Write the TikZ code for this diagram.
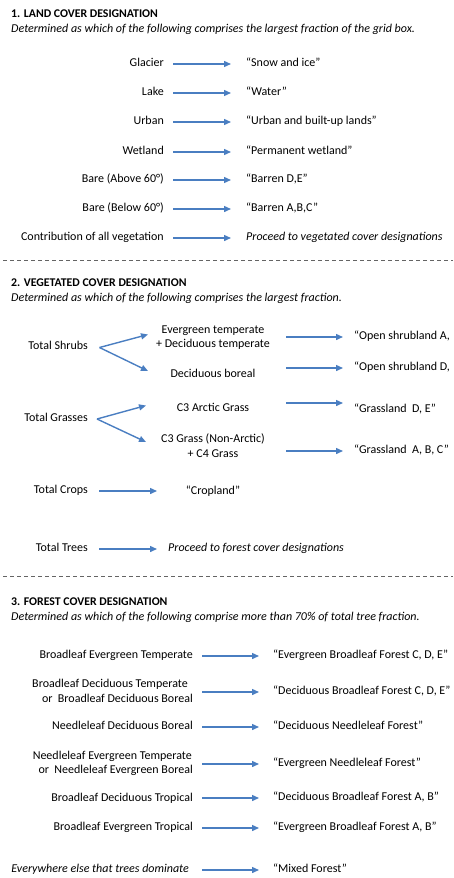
\documentclass[tikz,border=0pt]{standalone}
\usepackage{fontspec}
\setmainfont{Carlito}
\usetikzlibrary{arrows.meta}
\definecolor{arrblue}{RGB}{74,126,193}
\definecolor{dashgray}{RGB}{100,100,100}
\tikzset{
  txt/.style={inner sep=0pt, font=\fontsize{12}{14.5}\selectfont},
  lft/.style={txt, anchor=mid east},
  rgt/.style={txt, anchor=mid west},
  ctr/.style={txt, anchor=center, align=center},
  ttl/.style={inner sep=0pt, anchor=mid west, font=\fontsize{11.8}{14}\selectfont\bfseries},
  sub/.style={inner sep=0pt, anchor=mid west, font=\fontsize{12}{14}\selectfont\itshape},
  arr/.style={draw=arrblue, line width=1.4pt, -{Triangle[length=7pt,width=6pt]}},
  sep/.style={draw=dashgray, line width=0.7pt, dash pattern=on 4pt off 3pt}
}
\begin{document}
\begin{tikzpicture}[x=1pt,y=-1pt]
\useasboundingbox (0,0) rectangle (453,878);
% ---------- Section 1
\node[ttl] (t1) at (11,15) {1. LAND COVER DESIGNATION};
\node[sub] (s1) at (11,30) {Determined as which of the following comprises the largest fraction of the grid box.};
\node[lft] (glacier) at (164,64) {Glacier};
\node[rgt] (snow) at (246,64) {“Snow and ice”};
\node[lft] (lake) at (164,93) {Lake};
\node[rgt] (water) at (246,93) {“Water”};
\node[lft] (urban) at (164,122) {Urban};
\node[rgt] (urbanl) at (246,122) {“Urban and built-up lands”};
\node[lft] (wetland) at (164,152) {Wetland};
\node[rgt] (wetl) at (246,152) {“Permanent wetland”};
\node[lft] (bareA) at (164,180) {Bare (Above 60°)};
\node[rgt] (barrenDE) at (246,180) {“Barren D,E”};
\node[lft] (bareB) at (164,209) {Bare (Below 60°)};
\node[rgt] (barrenABC) at (246,209) {“Barren A,B,C”};
\node[lft] (veg) at (164,238) {Contribution of all vegetation};
\node[rgt] (proc1) at (246,238) {\itshape Proceed to vegetated cover designations};
\foreach \a/\b in {glacier/snow,lake/water,urban/urbanl,wetland/wetl,bareA/barrenDE,bareB/barrenABC,veg/proc1}
  \draw[arr] ([xshift=9pt]\a.mid east) -- ([xshift=-15pt]\b.mid west);
\coordinate (d1a) at (3,260);
\coordinate (d1b) at (453,260);
\draw[sep] (d1a) -- (d1b);
% ---------- Section 2
\node[ttl] (t2) at (11,284) {2. VEGETATED COVER DESIGNATION};
\node[sub] (s2) at (11,299) {Determined as which of the following comprises the largest fraction.};
\node[lft] (shrubs) at (88,347) {Total Shrubs};
\node[ctr] (evt) at (213,337.5) {Evergreen temperate\\+ Deciduous temperate};
\node[ctr] (decb) at (213,373) {Deciduous boreal};
\node[rgt] (osA) at (354,337) {“Open shrubland A,};
\node[rgt] (osD) at (354,368) {“Open shrubland D,};
\coordinate (sh0) at (99.5,347.5);
\coordinate (sh1) at (148,334.5);
\coordinate (sh2) at (148,371);
\draw[arr] (sh0) -- (sh1);
\draw[arr] (sh0) -- (sh2);
\draw[arr] ([xshift=-68pt]osA.mid west) -- ([xshift=-11pt]osA.mid west);
\draw[arr] ([xshift=-68pt]osD.mid west) -- ([xshift=-11pt]osD.mid west);
\node[lft] (grass) at (88,419) {Total Grasses};
\node[ctr] (c3a) at (213,407) {C3 Arctic Grass};
\node[ctr] (c3n) at (213,445.5) {C3 Grass (Non-Arctic)\\+ C4 Grass};
\node[rgt] (glDE) at (354,410) {“Grassland\ \ D, E”};
\node[rgt] (glABC) at (354,451) {“Grassland\ \ A, B, C”};
\coordinate (gr0) at (97,419);
\coordinate (gr1) at (146,405.5);
\coordinate (gr2) at (146,442);
\draw[arr] (gr0) -- (gr1);
\draw[arr] (gr0) -- (gr2);
\coordinate (ga1) at (286,403);
\coordinate (ga2) at (343,403);
\draw[arr] (ga1) -- (ga2);
\draw[arr] ([xshift=-68pt]glABC.mid west) -- ([xshift=-11pt]glABC.mid west);
\node[lft] (crops) at (88,491) {Total Crops};
\node[ctr] (cropland) at (213,491) {“Cropland”};
\draw[arr] ([xshift=11pt]crops.mid east) -- ([xshift=69pt]crops.mid east);
\node[lft] (trees) at (88,549) {Total Trees};
\node[rgt] (proc2) at (168,549) {\itshape Proceed to forest cover designations};
\draw[arr] ([xshift=11pt]trees.mid east) -- ([xshift=-11pt]proc2.mid west);
\coordinate (d2a) at (3,576);
\coordinate (d2b) at (453,576);
\draw[sep] (d2a) -- (d2b);
% ---------- Section 3
\node[ttl] (t3) at (11,603) {3. FOREST COVER DESIGNATION};
\node[sub] (s3) at (11,618) {Determined as which of the following comprise more than 70\% of total tree fraction.};
\node[lft] (bet) at (193,656) {Broadleaf Evergreen Temperate};
\node[rgt] (ebf1) at (273,656) {“Evergreen Broadleaf Forest C, D, E”};
\node[txt, anchor=east, align=right] (bdt) at (193,691) {Broadleaf Deciduous Temperate\hspace*{5pt}\\or\ \ Broadleaf Deciduous Boreal};
\node[rgt] (dbf1) at (273,692) {“Deciduous Broadleaf Forest C, D, E”};
\node[lft] (ndb) at (193,727) {Needleleaf Deciduous Boreal};
\node[rgt] (dnf) at (273,727) {“Deciduous Needleleaf Forest”};
\node[txt, anchor=east, align=right] (net) at (193,763.5) {Needleleaf Evergreen Temperate\hspace*{1pt}\\or\ \ Needleleaf Evergreen Boreal};
\node[rgt] (enf) at (273,764) {“Evergreen Needleleaf Forest”};
\node[lft] (bdtr) at (193,799) {Broadleaf Deciduous Tropical};
\node[rgt] (dbf2) at (273,798) {“Deciduous Broadleaf Forest A, B”};
\node[lft] (betr) at (193,828) {Broadleaf Evergreen Tropical};
\node[rgt] (ebf2) at (273,828) {“Evergreen Broadleaf Forest A, B”};
\node[lft] (else) at (189,870) {\itshape Everywhere else that trees dominate};
\node[rgt] (mixed) at (273,870) {“Mixed Forest”};
\foreach \b in {ebf1,dbf1,dnf,enf,dbf2,ebf2,mixed}
  \draw[arr] ([xshift=-71pt]\b.mid west) -- ([xshift=-14pt]\b.mid west);
\end{tikzpicture}
\end{document}
